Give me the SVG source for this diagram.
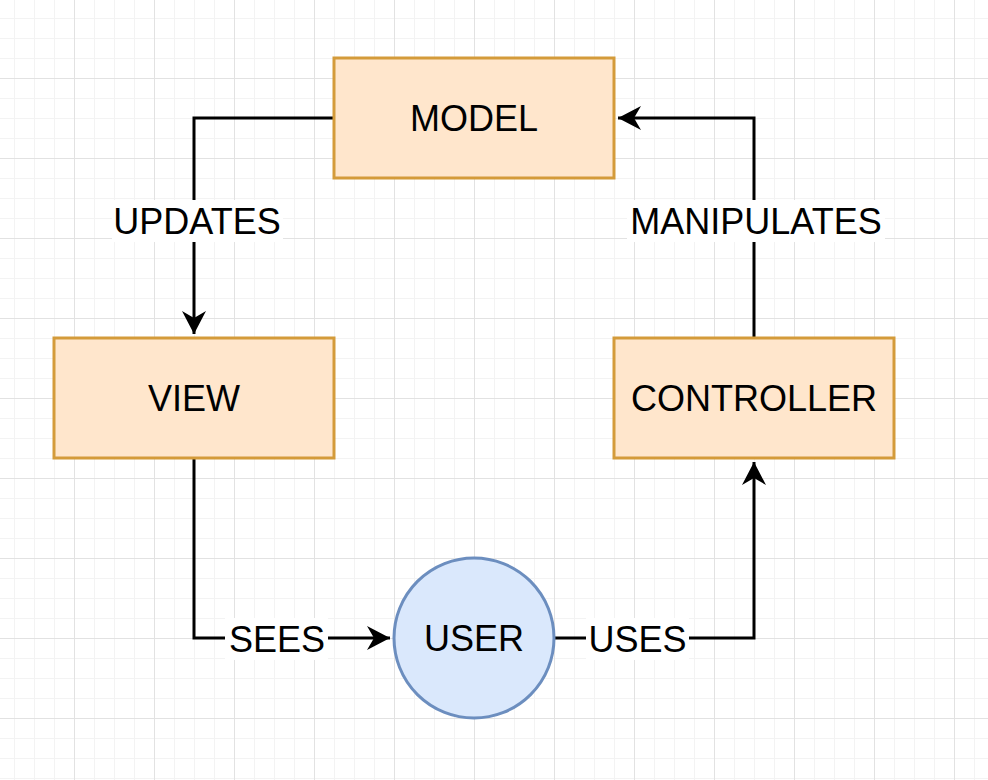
<svg xmlns="http://www.w3.org/2000/svg" width="988" height="780" viewBox="0 0 988 780">
  <defs>
    <pattern id="grid" patternUnits="userSpaceOnUse" x="-6" y="-2" width="80" height="80">
      <rect x="20" y="0" width="1" height="80" fill="#f3f3f3"/>
      <rect x="40" y="0" width="1" height="80" fill="#f3f3f3"/>
      <rect x="60" y="0" width="1" height="80" fill="#f3f3f3"/>
      <rect x="0" y="20" width="80" height="1" fill="#f3f3f3"/>
      <rect x="0" y="40" width="80" height="1" fill="#f3f3f3"/>
      <rect x="0" y="60" width="80" height="1" fill="#f3f3f3"/>
      <rect x="0" y="0" width="1" height="80" fill="#e2e2e2"/>
      <rect x="0" y="0" width="80" height="1" fill="#e2e2e2"/>
    </pattern>
    <marker id="arrow" markerUnits="userSpaceOnUse" viewBox="-25 -13 27 26" refX="0" refY="0" markerWidth="27" markerHeight="26" orient="auto">
      <path d="M0,0 L-23,-12 L-16,0 L-23,12 Z" fill="#000"/>
    </marker>
    <style>
      .box { fill: #ffe6cc; stroke: #d49b3a; stroke-width: 3; }
      .user { fill: #dae8fc; stroke: #6c8ebf; stroke-width: 3; }
      .edge { fill: none; stroke: #000; stroke-width: 3; }
      .lbl { font-family: "Liberation Sans", Arial, sans-serif; font-size: 36px; fill: #000; text-anchor: middle; }
      .lblbg { fill: #fff; }
    </style>
  </defs>
  <rect width="988" height="780" fill="#fff"/>
  <rect width="988" height="780" fill="url(#grid)"/>

  <g id="connectors">
    <g id="edge-updates">
      <path class="edge" d="M334,118 H194 V334" marker-end="url(#arrow)"/>
      <rect class="lblbg" x="112" y="200" width="171" height="42"/>
      <text class="lbl" x="197" y="234">UPDATES</text>
    </g>
    <g id="edge-manipulates">
      <path class="edge" d="M754,338 V118 H618" marker-end="url(#arrow)"/>
      <rect class="lblbg" x="627" y="200" width="258" height="42"/>
      <text class="lbl" x="756" y="234">MANIPULATES</text>
    </g>
    <g id="edge-sees">
      <path class="edge" d="M194,458 V638 H390" marker-end="url(#arrow)"/>
      <rect class="lblbg" x="225" y="618" width="103" height="42"/>
      <text class="lbl" x="277" y="652">SEES</text>
    </g>
    <g id="edge-uses">
      <path class="edge" d="M554,638 H754 V462" marker-end="url(#arrow)"/>
      <rect class="lblbg" x="586" y="618" width="103" height="42"/>
      <text class="lbl" x="637.5" y="652">USES</text>
    </g>
  </g>

  <g id="node-model">
    <rect class="box" x="334" y="58" width="280" height="120"/>
    <text class="lbl" x="474" y="131">MODEL</text>
  </g>
  <g id="node-view">
    <rect class="box" x="54" y="338" width="280" height="120"/>
    <text class="lbl" x="194" y="411">VIEW</text>
  </g>
  <g id="node-controller">
    <rect class="box" x="614" y="338" width="280" height="120"/>
    <text class="lbl" x="754" y="411">CONTROLLER</text>
  </g>
  <g id="node-user">
    <circle class="user" cx="474" cy="638" r="80"/>
    <text class="lbl" x="474" y="651">USER</text>
  </g>
</svg>
